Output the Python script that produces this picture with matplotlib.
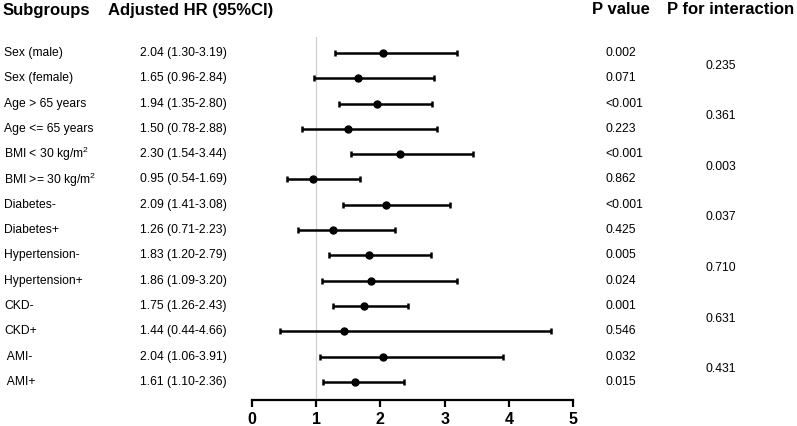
import matplotlib
matplotlib.use("Agg")
import matplotlib.pyplot as plt
from matplotlib.transforms import blended_transform_factory

plt.rcParams['font.family'] = ['Liberation Sans', 'DejaVu Sans']
plt.rcParams['mathtext.fontset'] = 'custom'
plt.rcParams['mathtext.rm'] = 'Liberation Sans'
plt.rcParams['mathtext.it'] = 'Liberation Sans:italic'
plt.rcParams['mathtext.bf'] = 'Liberation Sans:bold'

subgroups = ["Sex (male)", "Sex (female)", "Age > 65 years", "Age <= 65 years",
             r"BMI < 30 kg/m$^{2}$", r"BMI >= 30 kg/m$^{2}$", "Diabetes-", "Diabetes+",
             "Hypertension-", "Hypertension+", "CKD-", "CKD+", " AMI-", " AMI+"]
hr = [2.04, 1.65, 1.94, 1.50, 2.30, 0.95, 2.09, 1.26, 1.83, 1.86, 1.75, 1.44, 2.04, 1.61]
lower = [1.30, 0.96, 1.35, 0.78, 1.54, 0.54, 1.41, 0.71, 1.20, 1.09, 1.26, 0.44, 1.06, 1.10]
upper = [3.19, 2.84, 2.80, 2.88, 3.44, 1.69, 3.08, 2.23, 2.79, 3.20, 2.43, 4.66, 3.91, 2.36]
p_values = ["0.002", "0.071", "<0.001", "0.223", "<0.001", "0.862", "<0.001", "0.425",
            "0.005", "0.024", "0.001", "0.546", "0.032", "0.015"]
p_interaction = ["0.235", "0.361", "0.003", "0.037", "0.710", "0.631", "0.431"]
xticks = [0, 1, 2, 3, 4, 5]

W, H = 797, 426
fig = plt.figure(figsize=(W / 100, H / 100), dpi=100)

# axes: x0 at px 252, x5 at px 573; top px 37, bottom px 400
ax = fig.add_axes([252 / W, (H - 400) / H, (573 - 252) / W, (400 - 37) / H])
row0, dy = 53, 25.3
ax.set_xlim(0, 5)
ax.set_ylim((400 - row0) / dy, (37 - row0) / dy)

ys = list(range(len(hr)))
ax.axvline(1, color='#d0d0d0', lw=0.9, zorder=0)
xerr = [[h - l for h, l in zip(hr, lower)], [u - h for h, u in zip(hr, upper)]]
ax.errorbar(hr, ys, xerr=xerr, fmt='o', color='black', ms=5, elinewidth=1.8,
            capsize=2.4, capthick=1.8)

for s in ['top', 'right', 'left']:
    ax.spines[s].set_visible(False)
ax.spines['bottom'].set_linewidth(1.6)
ax.set_yticks([])
ax.set_xticks(xticks)
ax.set_xticklabels([str(t) for t in xticks], fontsize=11.5, fontweight='bold')
ax.tick_params(axis='x', direction='out', length=5, width=1.6, pad=3.5)

tr = blended_transform_factory(fig.transFigure, ax.transData)
fs = 8.7
for i in ys:
    fig.text(4 / W, i, subgroups[i], transform=tr, fontsize=fs, va='center', ha='left')
    fig.text(140 / W, i, f"{hr[i]:.2f} ({lower[i]:.2f}-{upper[i]:.2f})", transform=tr,
             fontsize=fs, va='center', ha='left')
    fig.text(605 / W, i, p_values[i], transform=tr, fontsize=fs, va='center', ha='left')
for k, p in enumerate(p_interaction):
    fig.text(706 / W, 2 * k + 0.5, p, transform=tr, fontsize=fs, va='center', ha='left')

hy = 1 - 10 / H
for x, t in [(3, "Subgroups"), (108, "Adjusted HR (95%CI)"), (592, "P value"),
             (667, "P for interaction")]:
    fig.text(x / W, hy, t, fontsize=12, fontweight='bold', va='center', ha='left')

fig.savefig("out.png", dpi=100)
